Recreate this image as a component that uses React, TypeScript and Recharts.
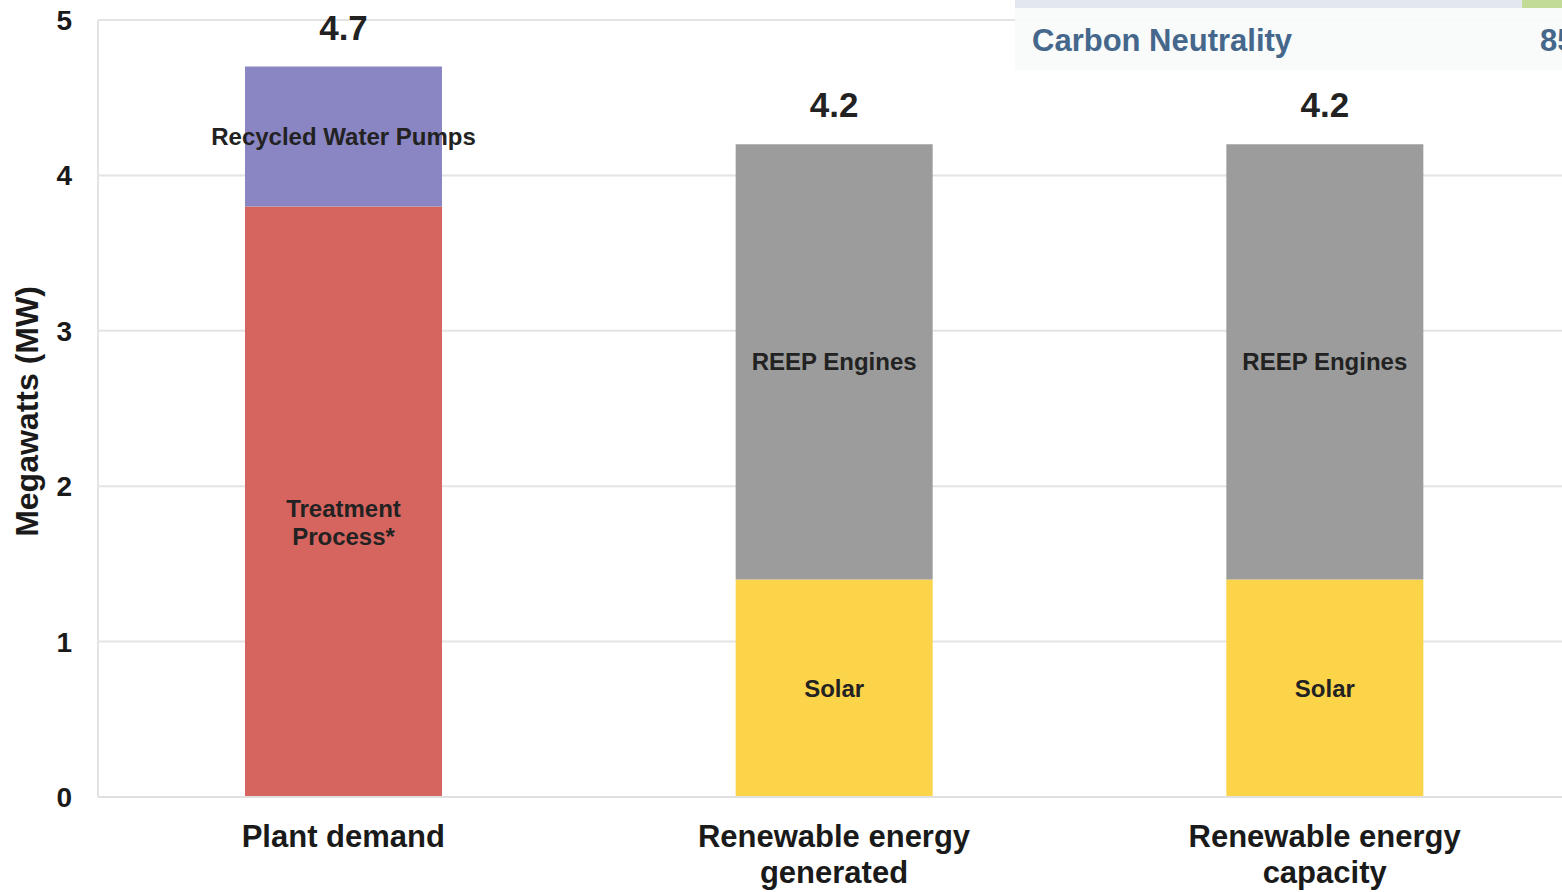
import React from 'react';
import { BarChart, Bar, XAxis, YAxis, CartesianGrid, LabelList, Label } from 'recharts';

const categories = ['Plant demand', 'Renewable energy generated', 'Renewable energy capacity'];
const categoryLines = [['Plant demand'], ['Renewable energy', 'generated'], ['Renewable energy', 'capacity']];
const treatment = [3.8, 0, 0];
const recycled = [0.9, 0, 0];
const solar = [0, 1.4, 1.4];
const reep = [0, 2.8, 2.8];
const yTicks = [0, 1, 2, 3, 4, 5];

const FONT = '"Liberation Sans", Arial, Helvetica, sans-serif';
const stackOrder = ['treatment', 'recycled', 'solar', 'reep'];

const data = categories.map((c, i) => {
  const row: any = {
    name: c,
    treatment: treatment[i],
    recycled: recycled[i],
    solar: solar[i],
    reep: reep[i],
  };
  const total = Math.round((treatment[i] + recycled[i] + solar[i] + reep[i]) * 10) / 10;
  row.total = total;
  let topKey = '';
  stackOrder.forEach((k) => {
    if (row[k] > 0) topKey = k;
  });
  stackOrder.forEach((k) => {
    row['top_' + k] = k === topKey ? total : null;
  });
  return row;
});

const makeSegLabel = (lines: string[], shift = 0) => (props: any) => {
  const { x, y, width, height, value } = props;
  if (!value) return null;
  const cx = x + width / 2;
  const cy = y + height / 2 + shift;
  const lh = 28;
  const start = cy - ((lines.length - 1) * lh) / 2;
  return (
    <text textAnchor="middle" fontFamily={FONT} fontWeight="bold" fontSize={24} fill="#222">
      {lines.map((l, i) => (
        <tspan key={i} x={cx} y={start + i * lh} dy="0.35em">{l}</tspan>
      ))}
    </text>
  );
};

const totalLabel = (props: any) => {
  const { x, y, width, value } = props;
  if (value == null || x == null || y == null) return null;
  return (
    <text x={x + width / 2} y={y - 27} textAnchor="middle" fontFamily={FONT} fontWeight="bold" fontSize={35} fill="#222">
      {Number(value).toFixed(1)}
    </text>
  );
};

const CatTick = (props: any) => {
  const { x, y, payload } = props;
  const lines = categoryLines[payload.index] || [payload.value];
  return (
    <text textAnchor="middle" fontFamily={FONT} fontWeight="bold" fontSize={31} fill="#1a1a1a">
      {lines.map((l: string, i: number) => (
        <tspan key={i} x={x} y={y + 42 + i * 36}>{l}</tspan>
      ))}
    </text>
  );
};

export default function App() {
  return (
    <div style={{ position: 'absolute', left: 0, top: 0, width: 1562, height: 892, overflow: 'hidden', background: '#fff' }}>
      <BarChart
        width={1570}
        height={892}
        data={data}
        margin={{ top: 20, right: 0, bottom: 0, left: 28 }}
        barSize={197}
      >
        <CartesianGrid vertical={false} stroke="#e4e4e4" strokeWidth={2} />
        <XAxis
          dataKey="name"
          tick={<CatTick />}
          tickLine={false}
          axisLine={{ stroke: '#e0e0e0', strokeWidth: 2 }}
          interval={0}
          height={95}
        />
        <YAxis
          domain={[0, 5]}
          ticks={yTicks}
          width={70}
          tickLine={false}
          tickSize={6}
          tickMargin={20}
          axisLine={{ stroke: '#e4e4e4', strokeWidth: 2 }}
          tick={{ fontFamily: FONT, fontWeight: 'bold', fontSize: 28, fill: '#1a1a1a' }}
        >
          <Label
            content={(p: any) => {
              const vb = p.viewBox || {};
              const cx = 27;
              const cy = vb.y + vb.height / 2 + 3;
              return (
                <text x={cx} y={cy} transform={`rotate(-90, ${cx}, ${cy})`} textAnchor="middle" dominantBaseline="central" fontFamily={FONT} fontWeight="bold" fontSize={32} fill="#1a1a1a">
                  Megawatts (MW)
                </text>
              );
            }}
          />
        </YAxis>
        <Bar dataKey="treatment" stackId="a" fill="#d7655f" isAnimationActive={false}>
          <LabelList dataKey="treatment" content={makeSegLabel(['Treatment', 'Process*'], 21)} />
          <LabelList dataKey="top_treatment" content={totalLabel} />
        </Bar>
        <Bar dataKey="recycled" stackId="a" fill="#8a86c3" isAnimationActive={false}>
          <LabelList dataKey="recycled" content={makeSegLabel(['Recycled Water Pumps'])} />
          <LabelList dataKey="top_recycled" content={totalLabel} />
        </Bar>
        <Bar dataKey="solar" stackId="a" fill="#fcd449" isAnimationActive={false}>
          <LabelList dataKey="solar" content={makeSegLabel(['Solar'])} />
          <LabelList dataKey="top_solar" content={totalLabel} />
        </Bar>
        <Bar dataKey="reep" stackId="a" fill="#9c9c9c" isAnimationActive={false}>
          <LabelList dataKey="reep" content={makeSegLabel(['REEP Engines'])} />
          <LabelList dataKey="top_reep" content={totalLabel} />
        </Bar>
      </BarChart>
      <div style={{ position: 'absolute', left: 1015, top: 0, width: 547, height: 8, background: '#e2e8ee' }} />
      <div style={{ position: 'absolute', left: 1522, top: 0, width: 40, height: 8, background: '#c2dc98' }} />
      <div style={{ position: 'absolute', left: 1015, top: 8, width: 547, height: 62, background: 'rgba(248,249,250,0.9)' }} />
      <div style={{ position: 'absolute', left: 1032, top: 22, fontFamily: FONT, fontWeight: 'bold', fontSize: 31, color: '#44678b', lineHeight: '38px', whiteSpace: 'nowrap' }}>
        Carbon Neutrality
      </div>
      <div style={{ position: 'absolute', left: 1540, top: 22, fontFamily: FONT, fontWeight: 'bold', fontSize: 31, color: '#44678b', lineHeight: '38px', whiteSpace: 'nowrap' }}>
        85
      </div>
    </div>
  );
}
